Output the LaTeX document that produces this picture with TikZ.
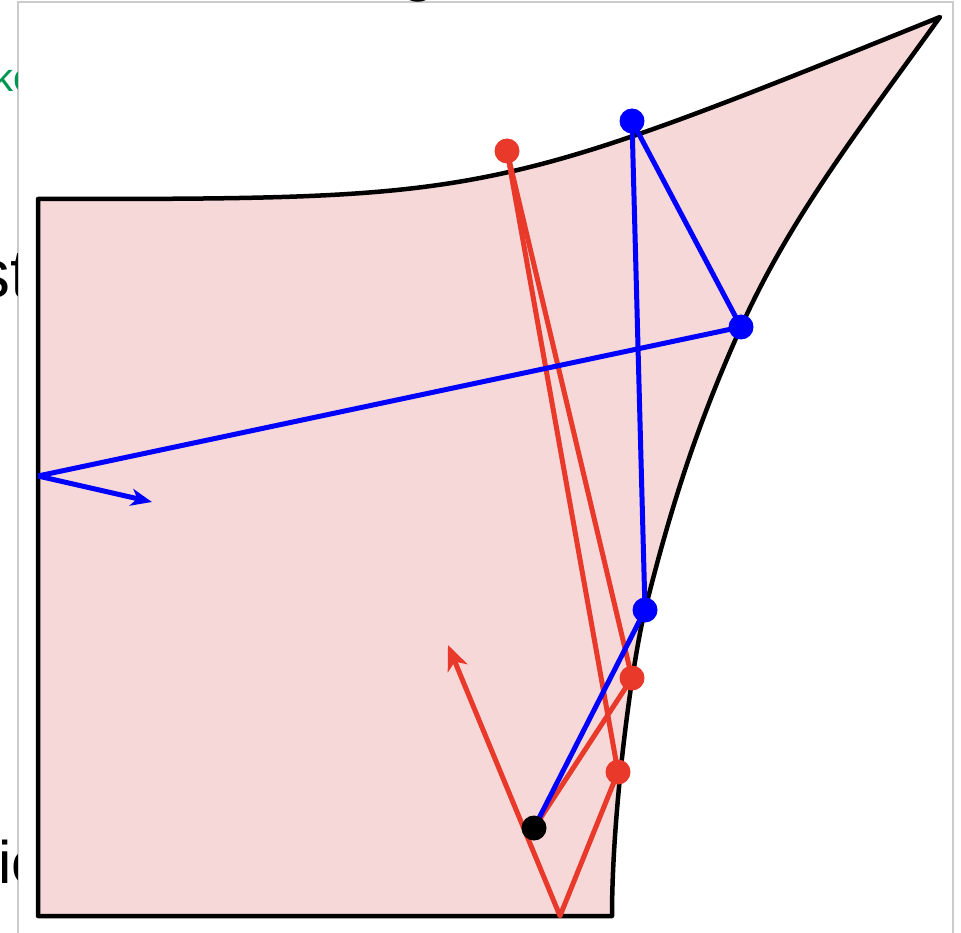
\documentclass[tikz,border=0pt]{standalone}
\usepackage{fontspec}
\setmainfont{Liberation Sans}
\usetikzlibrary{arrows.meta}
\definecolor{pinkfill}{RGB}{246,216,216}
\definecolor{rayred}{RGB}{232,57,42}
\definecolor{rayblue}{RGB}{0,0,255}
\definecolor{txtgreen}{RGB}{0,150,82}
\definecolor{framegray}{RGB}{204,204,204}
\tikzset{
  region/.style={fill=pinkfill, draw=black, line width=4.5pt, line join=round},
  redray/.style={draw=rayred, line width=5pt, line join=round},
  blueray/.style={draw=rayblue, line width=5pt, line join=round},
  reddot/.style={circle, fill=rayred, inner sep=0pt, minimum size=25pt},
  bluedot/.style={circle, fill=rayblue, inner sep=0pt, minimum size=25pt},
  blackdot/.style={circle, fill=black, inner sep=0pt, minimum size=25pt},
  frameline/.style={draw=framegray, line width=1.5pt},
  cuttext/.style={anchor=base west, inner sep=0pt}
}
\begin{document}
\begin{tikzpicture}[x=1pt,y=-1pt]
\useasboundingbox (0,0) rectangle (961,933);
% frame
\coordinate (F1) at (18,2);
\coordinate (F2) at (953,2);
\coordinate (F3) at (18,933);
\coordinate (F4) at (953,933);
\draw[frameline] (F3) -- (F1) -- (F2) -- (F4);
% region
\path[region] (38,199) -- (38,916) -- (612,916)
  .. controls (612,810) and (632.5,660) .. (645,610)
  .. controls (670,510) and (696,427) .. (741,327)
  .. controls (790.5,217) and (861,127) .. (940,17)
  .. controls (489,199) .. (38,199) -- cycle;
% points
\coordinate (R1) at (507,151);
\coordinate (R2) at (632,678);
\coordinate (R3) at (618,772);
\coordinate (U1) at (632,121);
\coordinate (U2) at (741,327);
\coordinate (U3) at (645,610);
\coordinate (K) at (534,828);
\coordinate (VB) at (560,916);
\coordinate (RT) at (448,645);
\coordinate (LE) at (38,476);
\coordinate (BT) at (152,502);
% red rays
\draw[redray] (R1) -- (R2);
\draw[redray] (R1) -- (R3);
\draw[redray] (R2) -- (K);
\draw[redray, -{Stealth[length=25pt,width=21pt,inset=7pt]}] (R3) -- (VB) -- (RT);
% blue rays
\draw[blueray] (K) -- (U3) -- (U1) -- (U2) -- (LE);
\draw[blueray, -{Stealth[length=21pt,width=17pt,inset=6pt]}] (LE) -- (BT);
% dots
\node[reddot] (r1) at (R1) {};
\node[reddot] (r2) at (R2) {};
\node[reddot] (r3) at (R3) {};
\node[bluedot] (u1) at (U1) {};
\node[bluedot] (u2) at (U2) {};
\node[bluedot] (u3) at (U3) {};
\node[blackdot] (k) at (K) {};
% cut-off texts
\begin{scope}
\clip (0,0) rectangle (17.3,933);
\node[cuttext, text=txtgreen, font=\fontsize{40}{44}\selectfont] (t1) at (-7,92) {ko};
\node[cuttext, font=\fontsize{68}{72}\selectfont] (t2) at (-23.5,298) {st};
\node[cuttext, font=\fontsize{60}{64}\selectfont] (t3) at (-2,883) {io};
\end{scope}
\node[cuttext, font=\fontsize{66}{70}\selectfont] (t4) at (400,-11) {g};
\end{tikzpicture}
\end{document}
